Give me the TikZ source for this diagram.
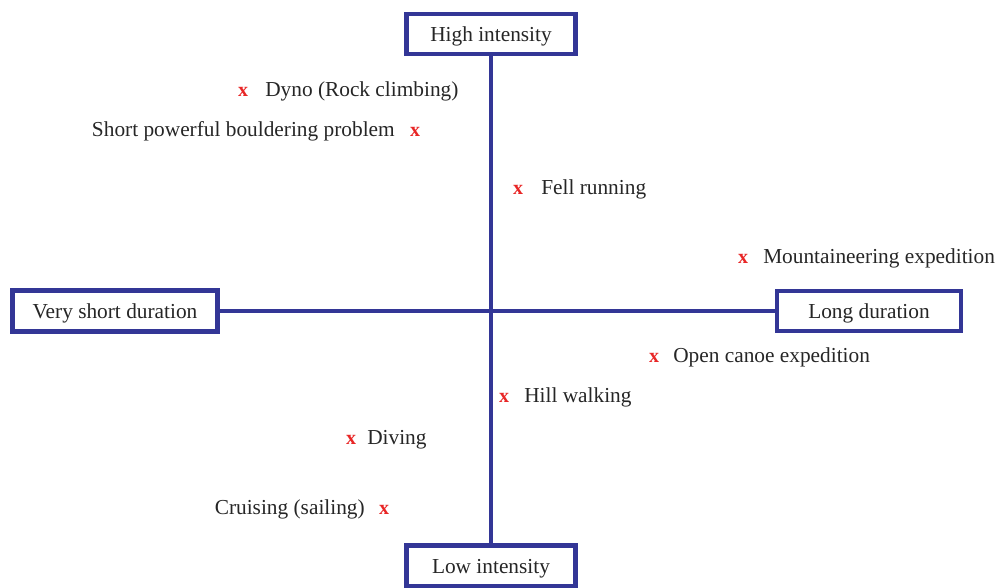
\documentclass[tikz,border=0pt]{standalone}
\usepackage{fontspec}
\setmainfont{Liberation Serif}
\definecolor{axisblue}{RGB}{51,54,150}
\definecolor{markred}{RGB}{232,38,38}
\begin{document}
\begin{tikzpicture}[x=0.75pt,y=-0.75pt,
  axisbox/.style={draw=axisblue,line width=3.4pt,fill=white,inner sep=0pt,
    text depth=0pt,font=\fontsize{16}{18}\selectfont,text=black!85},
  axisline/.style={draw=axisblue,line width=3.2pt},
  lbl/.style={inner sep=0pt,font=\fontsize{16}{18}\selectfont,text=black!85},
  xmark/.style={inner sep=0pt,anchor=base,font=\fontsize{15}{17}\selectfont\bfseries,text=markred}]
\useasboundingbox (0,0) rectangle (1000,587);

% axis end boxes
\node[axisbox,minimum width=127pt,minimum height=30pt] (high) at (491,34) {High intensity};
\node[axisbox,minimum width=127pt,minimum height=30.5pt] (low) at (491,566) {Low intensity};
\node[axisbox,minimum width=154pt,minimum height=31pt] (short) at (115,311) {Very short duration};
\node[axisbox,minimum width=138pt,minimum height=30pt] (long) at (869,311) {Long duration};

% axes
\draw[axisline] (high.south) -- (low.north);
\draw[axisline] (short.east) -- (long.west);

% activities (positions are baselines)
\node[xmark] (m1) at (243,96.5) {x};
\node[lbl,anchor=base west] (t1) at (265,96.5) {Dyno (Rock climbing)};

\node[lbl,anchor=base east] (t2) at (395,136.5) {Short powerful bouldering problem};
\node[xmark] (m2) at (415,136.5) {x};

\node[xmark] (m3) at (518,194.5) {x};
\node[lbl,anchor=base west] (t3) at (541,194.5) {Fell running};

\node[xmark] (m4) at (743,263.5) {x};
\node[lbl,anchor=base west] (t4) at (763,263.5) {Mountaineering expedition};

\node[xmark] (m5) at (654,362.5) {x};
\node[lbl,anchor=base west] (t5) at (673,362.5) {Open canoe expedition};

\node[xmark] (m6) at (504,402.5) {x};
\node[lbl,anchor=base west] (t6) at (524,402.5) {Hill walking};

\node[xmark] (m7) at (351,444.5) {x};
\node[lbl,anchor=base west] (t7) at (367,444.5) {Diving};

\node[lbl,anchor=base east] (t8) at (365,514.5) {Cruising (sailing)};
\node[xmark] (m8) at (384,514.5) {x};
\end{tikzpicture}
\end{document}
